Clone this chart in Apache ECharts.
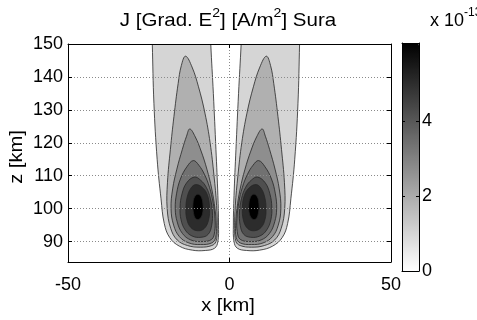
<!DOCTYPE html>
<html><head><meta charset="utf-8">
<script src="https://cdn.jsdelivr.net/npm/echarts@6/dist/echarts.min.js"></script>
<style>html,body{margin:0;padding:0;background:#fff}#c{width:477px;height:320px}</style>
</head><body><div id="c"></div><script>
// Contour levels of J, in units of 1e-13 A/m^2, outermost band first
const levels = [1.0, 1.9, 2.7, 3.4, 4.2, 5.05, 6.1];

// Closed contour outlines as [x km, z km] vertices, one per level (west lobe).
// The outermost band runs past the top of the plot and is clipped there.
const westLobe = [
  [[-24.3,165],[-15,185],[-6.4,165],[-5.8,150],[-5.0,135],[-4.2,118],[-3.6,104],[-3.4,95],[-3.6,90],[-4.6,88.0],[-7.5,87.3],[-11.5,87.4],[-15.5,88.6],[-18.5,91.2],[-20.2,95.5],[-21.2,103],[-22.4,115],[-23.4,132],[-23.9,150]],
  [[-13.6,146.3],[-11.6,143],[-9.6,137],[-7.6,129],[-6.0,120],[-4.8,110],[-4.0,101],[-3.8,94],[-4.2,90.0],[-5.5,88.8],[-9,88.3],[-13,88.8],[-16.2,90.5],[-18.2,94],[-19.3,100],[-19.2,108],[-18.3,118],[-17.2,128],[-15.9,138],[-14.9,143.5]],
  [[-12.3,124.2],[-10.6,121.8],[-8.8,117.5],[-7.0,112],[-5.5,106],[-4.5,100],[-4.1,95],[-4.3,91.2],[-5.5,89.6],[-9,89.1],[-12.6,89.6],[-15.5,91.5],[-17.3,95],[-18.1,100],[-17.6,106],[-16.3,112],[-14.6,118],[-13.3,122]],
  [[-11.2,114.6],[-9.5,113.2],[-7.7,110.3],[-6.2,106.5],[-5.1,102],[-4.5,97],[-4.6,93],[-5.5,90.7],[-8.5,90.0],[-12,90.5],[-14.6,92.5],[-16.2,96],[-16.8,100],[-16.4,104.5],[-15.2,109],[-13.2,112.7]],
  [[-10.9,109.6],[-9.0,108.7],[-7.2,106.5],[-5.9,103],[-5.3,99],[-5.5,95],[-6.6,92.2],[-8.8,91.3],[-11.6,91.7],[-13.7,93.5],[-15.0,96.6],[-15.3,100.5],[-14.7,104.5],[-13.3,107.8]],
  [[-10.4,107.3],[-8.5,106.5],[-6.9,104.3],[-6.2,100.5],[-6.5,96.5],[-7.9,93.9],[-10.0,93.3],[-12.0,94.3],[-13.2,96.8],[-13.5,100],[-13.1,103.5],[-11.9,106.3]],
  [[-9.75,104.4],[-8.7,103.5],[-8.2,101],[-8.4,98.3],[-9.4,96.8],[-10.5,97.0],[-11.2,99],[-11.3,101.5],[-10.8,103.6]]
];

// Same levels for the east lobe
const eastLobe = [
  [[22.1,165],[12.8,185],[4.2,165],[3.6,150],[2.8,135],[2.0,118],[1.4,104],[1.2,95],[1.4,90],[2.4,88.0],[5.3,87.3],[9.3,87.4],[13.3,88.6],[16.3,91.2],[18.0,95.5],[19.0,103],[20.2,115],[21.2,132],[21.7,150]],
  [[11.4,146.3],[9.4,143],[7.4,137],[5.4,129],[3.8,120],[2.6,110],[1.8,101],[1.6,94],[2.0,90.0],[3.3,88.8],[6.8,88.3],[10.8,88.8],[14.0,90.5],[16.0,94],[17.1,100],[17.0,108],[16.1,118],[15.0,128],[13.7,138],[12.7,143.5]],
  [[10.1,124.2],[8.4,121.8],[6.6,117.5],[4.8,112],[3.3,106],[2.3,100],[1.9,95],[2.1,91.2],[3.3,89.6],[6.8,89.1],[10.4,89.6],[13.3,91.5],[15.1,95],[15.9,100],[15.4,106],[14.1,112],[12.4,118],[11.1,122]],
  [[9.0,114.6],[7.3,113.2],[5.5,110.3],[4.0,106.5],[2.9,102],[2.3,97],[2.4,93],[3.3,90.7],[6.3,90.0],[9.8,90.5],[12.4,92.5],[14.0,96],[14.6,100],[14.2,104.5],[13.0,109],[11.0,112.7]],
  [[8.7,109.6],[6.8,108.7],[5.0,106.5],[3.7,103],[3.1,99],[3.3,95],[4.4,92.2],[6.6,91.3],[9.4,91.7],[11.5,93.5],[12.8,96.6],[13.1,100.5],[12.5,104.5],[11.1,107.8]],
  [[8.2,107.3],[6.3,106.5],[4.7,104.3],[4.0,100.5],[4.3,96.5],[5.7,93.9],[7.8,93.3],[9.8,94.3],[11.0,96.8],[11.3,100],[10.9,103.5],[9.7,106.3]],
  [[7.55,104.4],[6.5,103.5],[6.0,101],[6.2,98.3],[7.2,96.8],[8.3,97.0],[9.0,99],[9.1,101.5],[8.6,103.6]]
];

const zTicks = [90, 100, 110, 120, 130, 140, 150];
const colorbarTicks = [0, 2, 4];

// one data item per outline: [level value, lobe index, level index]
const lobes = [westLobe, eastLobe];
const items = [];
levels.forEach((lv, i) => { lobes.forEach((lobe, j) => items.push([lv, j, i])); });

const FONT = 'Liberation Sans, Arial, sans-serif';
const chart = echarts.init(document.getElementById('c'), null, {renderer: 'canvas'});
const dotted = {show: true, lineStyle: {color: '#8a8a8a', width: 1, type: [1, 2]}};
const boxLine = {show: true, onZero: false, lineStyle: {color: '#000', width: 1}};
const inTick = (len, vals) => ({inside: true, length: len, lineStyle: {color: '#000'}, customValues: vals});

// base text plus raised exponent
const supRich = (base, sup) => ({
  n: {fontSize: base, fontFamily: FONT, lineHeight: base, verticalAlign: 'bottom'},
  s: {fontSize: sup, fontFamily: FONT, lineHeight: sup, verticalAlign: 'bottom', padding: [0, 0, 11, 0]}
});

chart.setOption({
  animation: false,
  backgroundColor: '#fff',
  grid: [
    {left: 68, top: 44, width: 323, height: 218},
    {left: 402, top: 43, width: 17, height: 228}
  ],
  xAxis: [
    {gridIndex: 0, type: 'value', min: -50, max: 50, interval: 50, position: 'bottom',
     axisLine: boxLine, axisTick: {inside: true, length: 4, lineStyle: {color: '#000'}},
     axisLabel: {margin: 14, color: '#000', fontSize: 18, fontFamily: FONT},
     splitLine: dotted, z: 5},
    {gridIndex: 0, type: 'value', min: -50, max: 50, interval: 50, position: 'top',
     axisLine: boxLine, axisTick: {inside: true, length: 4, lineStyle: {color: '#000'}},
     axisLabel: {show: false}, splitLine: {show: false}, z: 5},
    {gridIndex: 1, type: 'value', min: 0, max: 1, position: 'bottom', axisLine: boxLine,
     axisTick: {show: false}, axisLabel: {show: false}, splitLine: {show: false}, z: 10},
    {gridIndex: 1, type: 'value', min: 0, max: 1, position: 'top', axisLine: boxLine,
     axisTick: {show: false}, axisLabel: {show: false}, splitLine: {show: false}, z: 10}
  ],
  yAxis: [
    {gridIndex: 0, type: 'value', min: 83.8, max: 150, position: 'left',
     axisLine: boxLine, axisTick: inTick(4, zTicks),
     axisLabel: {margin: 5, color: '#000', fontSize: 18, fontFamily: FONT, customValues: zTicks},
     splitLine: dotted, z: 5},
    {gridIndex: 0, type: 'value', min: 83.8, max: 150, position: 'right',
     axisLine: boxLine, axisTick: inTick(4, zTicks),
     axisLabel: {show: false, customValues: zTicks}, splitLine: {show: false}, z: 5},
    {gridIndex: 1, type: 'value', min: 0, max: 6.1, position: 'right',
     axisLine: boxLine, axisTick: inTick(3, colorbarTicks),
     axisLabel: {margin: 3, color: '#000', fontSize: 18, fontFamily: FONT, customValues: colorbarTicks},
     splitLine: {show: false}, z: 10},
    {gridIndex: 1, type: 'value', min: 0, max: 6.1, position: 'left',
     axisLine: boxLine, axisTick: inTick(3, colorbarTicks),
     axisLabel: {show: false, customValues: colorbarTicks}, splitLine: {show: false}, z: 10}
  ],
  visualMap: {
    type: 'continuous', seriesIndex: 0, dimension: 0, min: 0, max: 6.1,
    inRange: {color: ['#ffffff', '#000000']},
    left: 402, top: 43, itemWidth: 17, itemHeight: 228, padding: 0,
    calculable: false, hoverLink: false, showLabel: false, z: 4
  },
  series: [{
    type: 'custom',
    coordinateSystem: 'cartesian2d',
    xAxisIndex: 0, yAxisIndex: 0,
    clip: true,
    data: items,
    renderItem: function (params, api) {
      const outline = lobes[api.value(1)][api.value(2)];
      const pts = outline.map(p => api.coord(p));
      return {
        type: 'polygon',
        shape: {points: pts, smooth: 0.4},
        style: {fill: api.visual('color'), stroke: '#262626', lineWidth: 0.8}
      };
    }
  }],
  graphic: [
    {type: 'text', x: 228, y: 21, scaleX: 1.08, style: {
      text: '{n|J [Grad. E}{s|2}{n|] [A/m}{s|2}{n|] Sura}', fill: '#000',
      align: 'center', verticalAlign: 'middle', rich: supRich(19, 13)}},
    {type: 'text', x: 430, y: 21, style: {
      text: '{n|x 10}{s|-13}', fill: '#000',
      align: 'left', verticalAlign: 'middle', rich: supRich(18, 12)}},
    {type: 'text', x: 228, y: 306, scaleX: 1.06, style: {
      text: 'x [km]', font: '19px ' + FONT, fill: '#000', align: 'center', verticalAlign: 'middle'}},
    {type: 'text', x: 17, y: 157, rotation: Math.PI / 2, scaleX: 1.06, style: {
      text: 'z [km]', font: '19px ' + FONT, fill: '#000', align: 'center', verticalAlign: 'middle'}}
  ]
});
</script></body></html>
